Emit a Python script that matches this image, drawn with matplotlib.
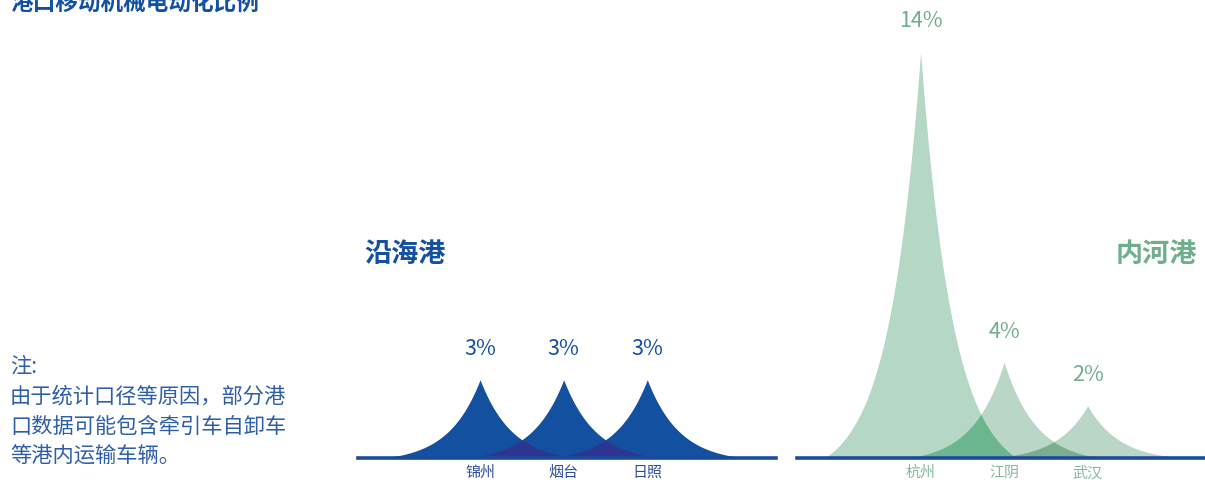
import numpy as np
import matplotlib
matplotlib.use("Agg")
import matplotlib.pyplot as plt

plt.rcParams["font.family"] = ["Noto Sans CJK SC", "DejaVu Sans"]

# coastal ports
coast_names = ["锦州", "烟台", "日照"]
coast_height = [2.7, 2.7, 2.7]
coast_labels = ["3%", "3%", "3%"]

# inland river ports
river_names = ["杭州", "江阴", "武汉"]
river_height = [14.0, 3.3, 1.8]
river_labels = ["14%", "4%", "2%"]

title = "港口移动机械电动化比例"
note_lines = ["注:", "由于统计口径等原因，部分港", "口数据可能包含牵引车自卸车", "等港内运输车辆。"]

BLUE = "#1450a0"
GREEN = "#6fae8b"


def spike(c, h, x, w=1.15, k=3.0):
    # concave "spike" shape, peak at c
    u = np.abs(x - c) / w
    y = h * (np.exp(-k * u) - np.exp(-k)) / (1 - np.exp(-k))
    return np.where(u < 1, y, 0)


def draw_panel(ax, names, heights, labels, fill, overlap, txtcol, tickcol, xlim):
    pos = np.arange(len(names))
    x = np.sort(np.concatenate([np.linspace(xlim[0], xlim[1], 3000), pos]))
    ys = [spike(p, h, x) for p, h in zip(pos, heights)]
    for y, c in zip(ys, fill):
        ax.fill_between(x, 0, y, color=c, lw=0)
    for i in range(len(ys) - 1):
        ax.fill_between(x, 0, np.minimum(ys[i], ys[i + 1]), color=overlap[i], lw=0)
    for p, h, lab in zip(pos, heights, labels):
        ax.annotate(lab, (p, h), xytext=(0, 22), textcoords="offset points",
                    ha="center", va="center", fontsize=15.5, color=txtcol)
    ax.axhline(0, color="#1b4b9b", lw=2.6, zorder=5, clip_on=False)
    ax.set_xlim(*xlim)
    ax.set_ylim(0, 15)
    ax.set_xticks(pos, names)
    ax.tick_params(axis="x", length=0, pad=5.5, labelsize=10.8, labelcolor=tickcol)
    ax.set_yticks([])
    for s in ax.spines.values():
        s.set_visible(False)
    ax.patch.set_alpha(0)


fig = plt.figure(figsize=(12.05, 4.8), dpi=100)
W, H = 1205, 480
ax1 = fig.add_axes([358 / W, 22 / H, 418 / W, 435 / H])
ax2 = fig.add_axes([797 / W, 22 / H, 410 / W, 435 / H])

draw_panel(ax1, coast_names, coast_height, coast_labels,
           [BLUE] * 3, ["#2d3591", "#2d3591"], BLUE, "#2d4e9b", (-1.46, 3.54))
draw_panel(ax2, river_names, river_height, river_labels,
           ["#b4d8c5", "#bad6c6", "#bad6c6"], ["#6bb68f", "#7aae8e"], GREEN, "#86b99b", (-1.48, 3.43))

# title is partly cut off at the top, as in the original
fig.text(10 / W, 1 - 3 / H, title, ha="left", va="center", fontsize=16.3,
         fontweight="bold", color=BLUE)
fig.text(405 / W, 1 - 254 / H, "沿海港", ha="center", va="center", fontsize=19.5,
         fontweight="bold", color=BLUE)
fig.text(1156 / W, 1 - 254 / H, "内河港", ha="center", va="center", fontsize=19.5,
         fontweight="bold", color=GREEN)

for i, line in enumerate(note_lines):
    fig.text(10 / W, 1 - (367 + 30 * i) / H, line, ha="left", va="center",
             fontsize=15.3, color="#2e5ea8")

fig.savefig("out.png", dpi=100)
